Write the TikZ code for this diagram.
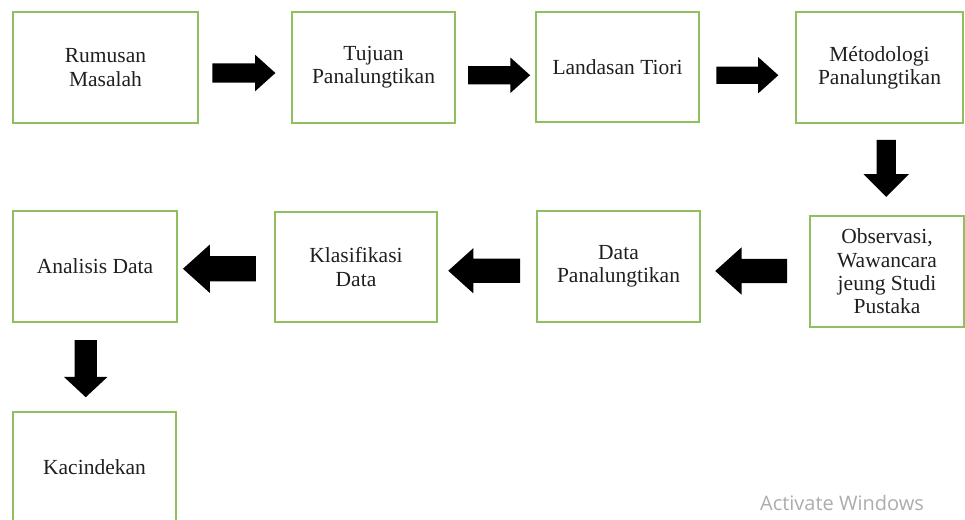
\documentclass[tikz,border=0pt]{standalone}
\usepackage{fontspec}
\setmainfont{Liberation Serif}
\newfontfamily\winfont{Open Sans}
\usetikzlibrary{shapes.arrows,calc}
\definecolor{boxgreen}{RGB}{142,192,94}
\definecolor{wingray}{RGB}{172,172,172}

\begin{document}
\begin{tikzpicture}[x=1pt, y=-1pt,
    stepbox/.style={draw=boxgreen, line width=2pt, minimum height=111pt, inner sep=0pt,
        align=center, text=black!88, font=\fontsize{21.5}{23.3}\selectfont},
    blockarrow/.style={single arrow, fill=black, draw=none, inner xsep=0pt,
        single arrow tip angle=84},
    rightarrow/.style={blockarrow, minimum height=62pt, inner ysep=9pt, single arrow head extend=9pt},
    leftarrow/.style={blockarrow, rotate=180, minimum height=72pt, inner ysep=12pt, single arrow head extend=11.5pt},
    downarrow/.style={blockarrow, rotate=-90, minimum height=57pt, inner ysep=10pt, single arrow head extend=12pt, single arrow tip angle=90}]
    \useasboundingbox (0,0) rectangle (965,519);

    % Top row
    \node[stepbox, minimum width=185pt] (rumusan) at (105.5,67.5) {Rumusan\\Masalah};
    \node[stepbox, minimum width=163pt] (tujuan) at (373.5,67.5) {Tujuan\\Panalungtikan};
    \node[stepbox, minimum width=163pt, minimum height=110pt] (landasan) at (617.5,67) {Landasan Tiori};
    \node[stepbox, minimum width=167pt] (metodologi) at (879.5,67.5) {Métodologi\\Panalungtikan};

    % Middle row
    \node[stepbox, minimum width=154pt] (observasi) at (887,271.5) {Observasi,\\Wawancara\\jeung Studi\\Pustaka};
    \node[stepbox, minimum width=163pt] (datapan) at (618.5,266.5) {Data\\Panalungtikan};
    \node[stepbox, minimum width=162pt, minimum height=110pt] (klasifikasi) at (356,267) {Klasifikasi\\Data};
    \node[stepbox, minimum width=164pt] (analisis) at (95,266.5) {Analisis Data};

    % Last box
    \node[stepbox, minimum width=163pt] (kacindekan) at (94.5,467.5) {Kacindekan};

    % Block arrows
    \node[rightarrow, minimum height=63pt, inner ysep=9.5pt, single arrow head extend=8.5pt] (a1) at ($(rumusan.east)!.5!(tujuan.west)+(-6.5,5.5)$) {};
    \node[rightarrow, single arrow head extend=8.5pt] (a2) at ($(tujuan.east)!.5!(landasan.west)+(-1.5,8)$) {};
    \node[rightarrow, inner ysep=8.5pt, single arrow head extend=9.5pt] (a3) at ($(landasan.east)!.5!(metodologi.west)+(-5,8)$) {};
    \node[downarrow, inner ysep=9.5pt, single arrow head extend=13pt] (d1) at ($(metodologi.south)!.5!(observasi.north)+(3,-6)$) {};
    \node[leftarrow] (l3) at ($(datapan.east)!.5!(observasi.west)+(3,2)$) {};
    \node[leftarrow, single arrow head extend=10.5pt] (l2) at ($(klasifikasi.east)!.5!(datapan.west)+(4,4)$) {};
    \node[leftarrow, minimum height=73pt, inner ysep=12.5pt] (l1) at ($(analisis.east)!.5!(klasifikasi.west)+(0.5,2)$) {};
    \node[downarrow, inner ysep=11pt, single arrow head extend=10.5pt, single arrow tip angle=94] (d2) at ($(analisis.south)!.5!(kacindekan.north)+(-9,-3.5)$) {};

    % Watermark
    \node[text=wingray, font=\winfont\fontsize{20}{24}\selectfont] (activate) at (842,503) {Activate Windows};
\end{tikzpicture}
\end{document}
